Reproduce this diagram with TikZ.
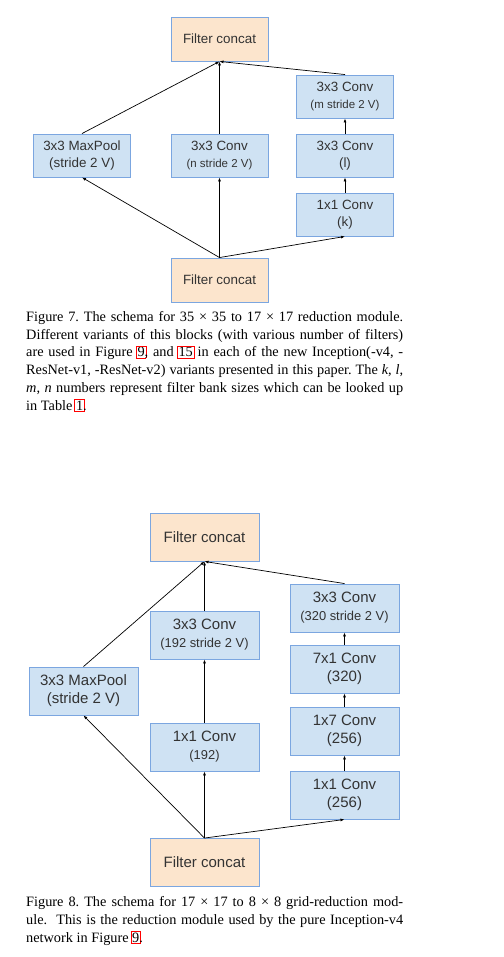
\documentclass[tikz,border=0pt]{standalone}
\usepackage{fontspec}
\setmainfont{Liberation Serif}
\newfontfamily\boxfont{Liberation Sans}
\usetikzlibrary{arrows.meta}
\definecolor{boxblue}{HTML}{CFE2F3}
\definecolor{boxorange}{HTML}{FCE5CD}
\definecolor{boxborder}{HTML}{7BA6E0}
\definecolor{boxtext}{HTML}{333333}
\newcommand\reflink[1]{\setbox0=\hbox{#1}\makebox[\wd0]{\setlength\fboxsep{0.8pt}\setlength\fboxrule{0.9pt}\textcolor{red}{\fbox{\textcolor{black}{#1}}}}}
\newcommand\smallA{\fontsize{11.5}{16.7}\selectfont}
\newcommand\smallB{\fontsize{12.9}{18}\selectfont}
\newcommand\capline[1]{\hbox to \linewidth{#1}}
\begin{document}
\begin{tikzpicture}[x=1pt,y=-1pt,
  blk/.style={draw=boxborder, line width=0.9pt, inner sep=0pt, align=center, text=boxtext},
  blueA/.style={blk, fill=boxblue, minimum width=97pt, minimum height=43pt, font=\boxfont\fontsize{13.4}{16.7}\selectfont},
  orangeA/.style={blk, fill=boxorange, minimum width=97pt, minimum height=44pt, font=\boxfont\fontsize{13.4}{16.7}\selectfont},
  blueB/.style={blk, fill=boxblue, minimum width=109pt, minimum height=48pt, font=\boxfont\fontsize{15}{18}\selectfont},
  orangeB/.style={blk, fill=boxorange, minimum width=109pt, minimum height=48pt, font=\boxfont\fontsize{15}{18}\selectfont},
  arr/.style={-{Latex[length=4pt,width=3pt]}, line width=0.7pt},
  caption/.style={anchor=base west, inner sep=0pt}
]
\fill[white] (0,0) rectangle (503,957);
\useasboundingbox (0,0) rectangle (503,957);

% ---------- Figure 7 ----------
\node[orangeA] (tc) at (219.5,39) {Filter concat};
\node[blueA] (mp1) at (82,155.5) {3x3 MaxPool\\(stride 2 V)};
\node[blueA] (nc) at (219.5,155.5) {3x3 Conv\\{\smallA (n stride 2 V)}};
\node[blueA] (mc) at (345,96.5) {3x3 Conv\\{\smallA (m stride 2 V)}};
\node[blueA] (lc) at (345,155.5) {3x3 Conv\\(l)};
\node[blueA] (kc) at (345,214.5) {1x1 Conv\\(k)};
\node[orangeA] (bc) at (219.5,280) {Filter concat};

\draw[arr] (bc.north) -- (mp1.south);
\draw[arr] (bc.north) -- (nc.south);
\draw[arr] (bc.north) -- (kc.south);
\draw[arr] (kc.north) -- (lc.south);
\draw[arr] (lc.north) -- (mc.south);
\draw[arr] (mp1.north) -- (tc.south);
\draw[arr] (nc.north) -- (tc.south);
\draw[arr] (mc.north) -- (tc.south);

\node[caption] (cap7) at (26,321.5) {\parbox[t]{377pt}{\fontsize{14.3}{17.7}\selectfont\frenchspacing
\capline{Figure 7. The schema for 35 × 35 to 17 × 17 reduction module.}
\capline{Different variants of this blocks (with various number of filters)}
\capline{are used in Figure \reflink{9}, and \reflink{15} in each of the new Inception(-v4, -}
\capline{ResNet-v1, -ResNet-v2) variants presented in this paper. The \textit{k}, \textit{l},}
\capline{\textit{m}, \textit{n} numbers represent filter bank sizes which can be looked up}
\hbox{in Table \reflink{1}.}}};

% ---------- Figure 8 ----------
\node[orangeB] (tc2) at (204.5,537) {Filter concat};
\node[blueB] (mp2) at (83.5,691) {3x3 MaxPool\\(stride 2 V)};
\node[blueB] (cs192) at (204.5,635) {3x3 Conv\\{\smallB (192 stride 2 V)}};
\node[blueB] (c192) at (204.5,747) {1x1 Conv\\{\smallB (192)}};
\node[blueB] (r1) at (344.5,608) {3x3 Conv\\{\smallB (320 stride 2 V)}};
\node[blueB] (r2) at (344.5,669) {7x1 Conv\\(320)};
\node[blueB] (r3) at (344.5,731) {1x7 Conv\\(256)};
\node[blueB] (r4) at (344.5,795) {1x1 Conv\\(256)};
\node[orangeB] (bc2) at (204.5,862.5) {Filter concat};

\draw[arr] (bc2.north) -- (mp2.south);
\draw[arr] (bc2.north) -- (c192.south);
\draw[arr] (bc2.north) -- (r4.south);
\draw[arr] (c192.north) -- (cs192.south);
\draw[arr] (r4.north) -- (r3.south);
\draw[arr] (r3.north) -- (r2.south);
\draw[arr] (r2.north) -- (r1.south);
\draw[arr] (mp2.north) -- (tc2.south);
\draw[arr] (cs192.north) -- (tc2.south);
\draw[arr] (r1.north) -- (tc2.south);

\node[caption] (cap8) at (26,906.7) {\parbox[t]{377pt}{\fontsize{14.3}{17.7}\selectfont\frenchspacing
\capline{Figure 8. The schema for 17 × 17 to 8 × 8 grid-reduction mod-}
\capline{ule.\ \ This is the reduction module used by the pure Inception-v4}
\hbox{network in Figure \reflink{9}.}}};
\end{tikzpicture}
\end{document}
